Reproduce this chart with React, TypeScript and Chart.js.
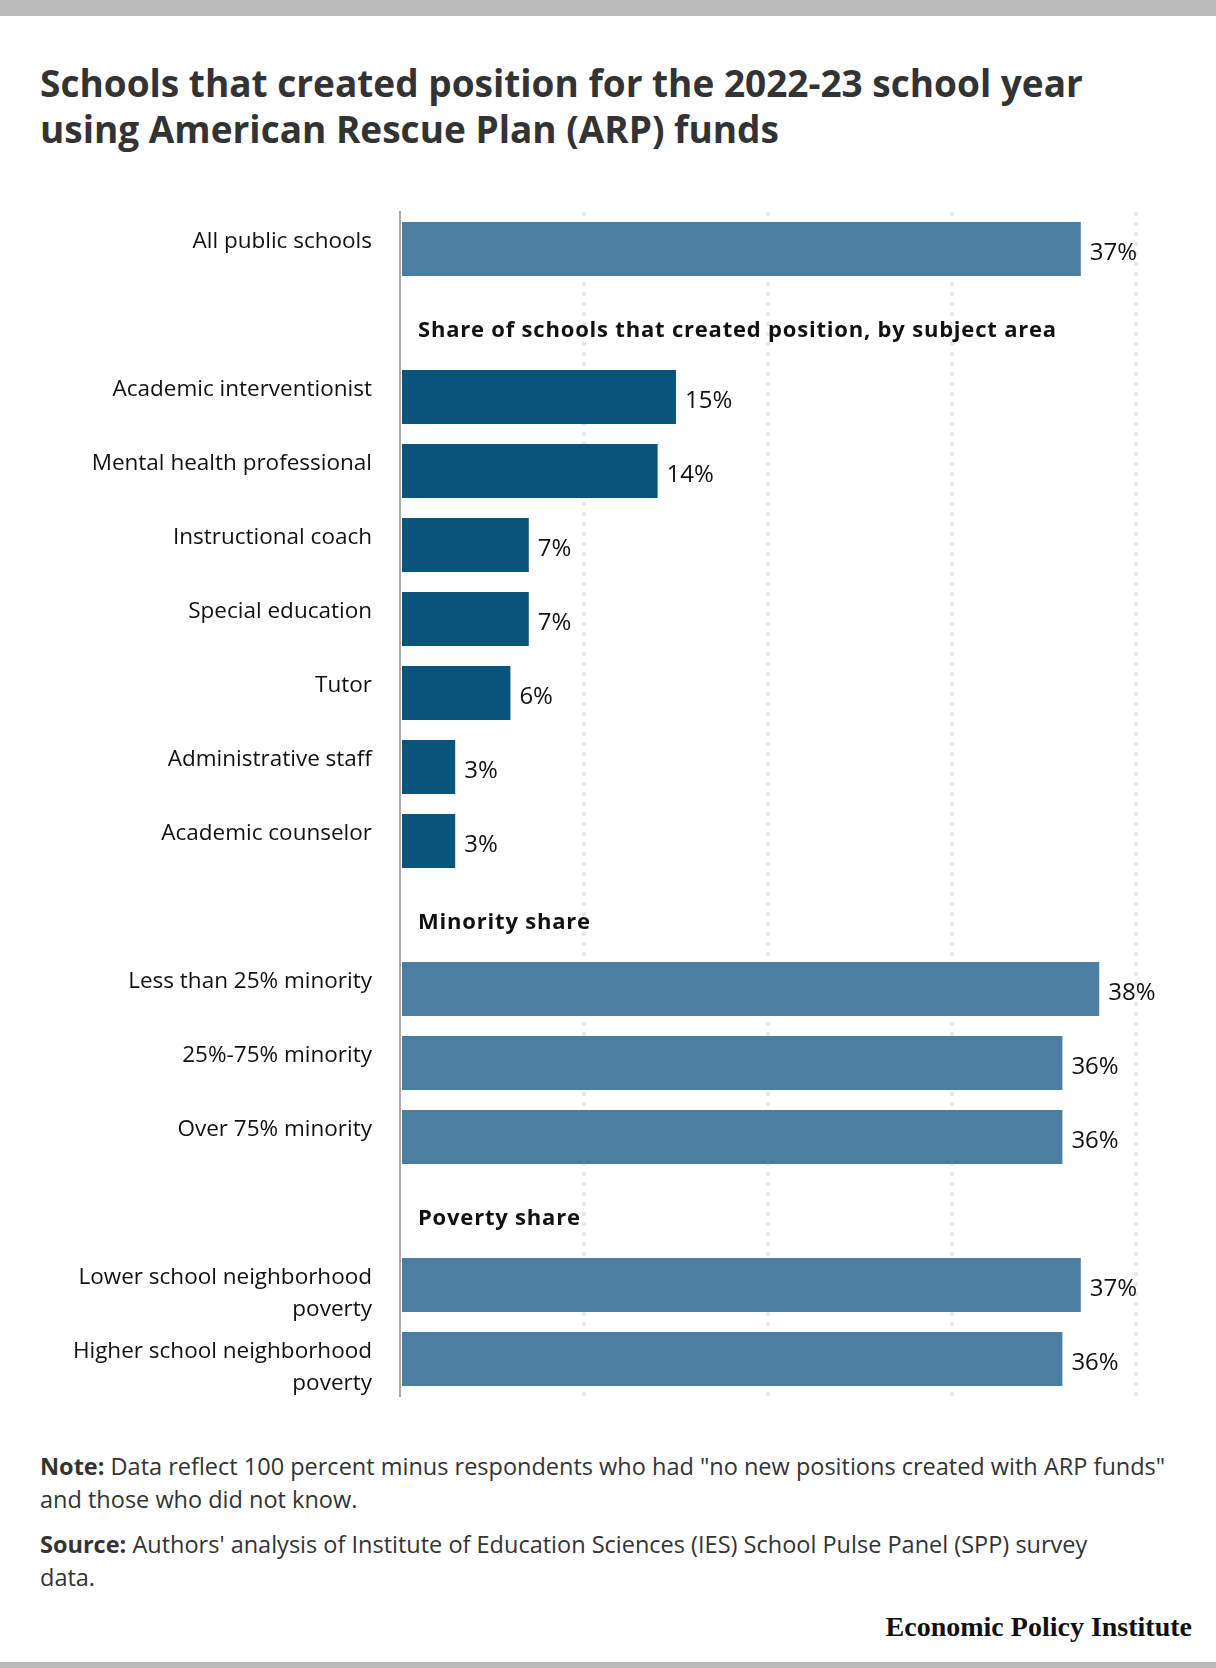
import { Chart, registerables } from "chart.js";
import { useEffect, useRef } from "react";

Chart.register(...registerables);

// Empty strings are the slots that hold the group headings.
const categories: (string | string[])[] = [
  "All public schools",
  "",
  "Academic interventionist",
  "Mental health professional",
  "Instructional coach",
  "Special education",
  "Tutor",
  "Administrative staff",
  "Academic counselor",
  "",
  "Less than 25% minority",
  "25%-75% minority",
  "Over 75% minority",
  "",
  ["", "Lower school neighborhood", "poverty"],
  ["", "Higher school neighborhood", "poverty"],
];

const values: (number | null)[] = [37, null, 15, 14, 7, 7, 6, 3, 3, null, 38, 36, 36, null, 37, 36];

const groups: string[] = ["all", "", "subject", "subject", "subject", "subject", "subject", "subject", "subject", "", "minority", "minority", "minority", "", "poverty", "poverty"];

const headings: { index: number; text: string }[] = [
  { index: 1, text: "Share of schools that created position, by subject area" },
  { index: 9, text: "Minority share" },
  { index: 13, text: "Poverty share" },
];

const xTicks = [0, 10, 20, 30, 40];

const LIGHT = "#4a7fa2";
const DARK = "#08547a";
const FONT = "'Open Sans', Lato, sans-serif";

export default function App() {
  const canvasRef = useRef<HTMLCanvasElement>(null);

  useEffect(() => {
    if (!canvasRef.current) return;
    const ctx = canvasRef.current.getContext("2d");
    if (!ctx) return;

    const labelsPlugin = {
      id: "valueLabels",
      afterDatasetsDraw(chart: Chart) {
        const c = chart.ctx;
        const meta = chart.getDatasetMeta(0);
        c.save();
        c.font = `24px ${FONT}`;
        c.fillStyle = "#111";
        c.textAlign = "left";
        c.textBaseline = "middle";
        meta.data.forEach((bar: any, i: number) => {
          const v = values[i];
          if (v == null) return;
          c.fillText(`${v}%`, bar.x + 9, bar.y + 4);
        });
        c.restore();
      },
    };

    const headingPlugin = {
      id: "headings",
      afterDraw(chart: Chart) {
        const c: any = chart.ctx;
        const y = chart.scales.y;
        c.save();
        c.font = `bold 22px ${FONT}`;
        c.letterSpacing = "0.8px";
        c.fillStyle = "#111";
        c.textAlign = "left";
        c.textBaseline = "middle";
        headings.forEach((h) => {
          c.fillText(h.text, chart.chartArea.left + 18, y.getPixelForValue(h.index) + 8);
        });
        c.restore();
      },
    };

    const chart = new Chart(ctx, {
      type: "bar",
      data: {
        labels: categories,
        datasets: [
          {
            data: values,
            backgroundColor: groups.map((g) => (g === "subject" ? DARK : LIGHT)),
            barPercentage: 0.73,
            categoryPercentage: 1,
          },
        ],
      },
      options: {
        indexAxis: "y",
        animation: false,
        responsive: false,
        maintainAspectRatio: false,
        layout: { padding: { top: 32, bottom: 24, left: 0, right: 80 } },
        plugins: { legend: { display: false }, tooltip: { enabled: false } },
        scales: {
          x: {
            min: 0,
            max: 40,
            afterBuildTicks: (s: any) => {
              s.ticks = xTicks.map((v) => ({ value: v }));
            },
            afterFit: (s: any) => {
              s.height = 0;
              s.paddingLeft = 0;
              s.paddingRight = 0;
            },
            ticks: { display: false },
            grid: {
              drawTicks: false,
              lineWidth: 4,
              color: (c: any) => (c.tick && c.tick.value === 0 ? "rgba(0,0,0,0)" : "#e8e8e8"),
            },
            border: { display: false, dash: [4, 6] },
          },
          y: {
            afterFit: (s: any) => {
              s.width = 400;
              s.paddingTop = 0;
              s.paddingBottom = 0;
            },
            grid: { display: false, drawTicks: false },
            border: { display: true, color: "#aaaaaa", width: 2 },
            ticks: {
              autoSkip: false,
              padding: 28,
              labelOffset: -7,
              color: "#111",
              font: { family: FONT, size: 22.5, lineHeight: 1.42 },
            },
          },
        },
      },
      plugins: [labelsPlugin, headingPlugin],
    });

    return () => chart.destroy();
  }, []);

  return (
    <div
      style={{
        position: "absolute",
        top: 0,
        left: 0,
        width: 1216,
        height: 1668,
        background: "#fff",
        fontFamily: FONT,
        overflow: "hidden",
      }}
    >
      <div style={{ position: "absolute", top: 0, left: 0, width: 1216, height: 16, background: "#bbbbbb" }} />
      <div
        style={{
          position: "absolute",
          top: 60,
          left: 40,
          fontSize: 37,
          lineHeight: "46px",
          fontWeight: 700,
          color: "#333",
        }}
      >
        Schools that created position for the 2022-23 school year
        <br />
        using American Rescue Plan (ARP) funds
      </div>
      <canvas
        ref={canvasRef}
        width={1216}
        height={1240}
        style={{ position: "absolute", top: 180, left: 0, width: 1216, height: 1240 }}
      />
      <div
        style={{
          position: "absolute",
          top: 1450,
          left: 40,
          fontSize: 23.5,
          lineHeight: "33px",
          color: "#333",
          whiteSpace: "nowrap",
        }}
      >
        <div>
          <b>Note:</b> Data reflect 100 percent minus respondents who had "no new positions created with ARP funds"
          <br />
          and those who did not know.
        </div>
        <div style={{ marginTop: 12 }}>
          <b>Source:</b> Authors' analysis of Institute of Education Sciences (IES) School Pulse Panel (SPP) survey
          <br />
          data.
        </div>
      </div>
      <div
        style={{
          position: "absolute",
          top: 1612,
          right: 24,
          fontFamily: "'Liberation Serif', 'DejaVu Serif', serif",
          fontWeight: 700,
          fontSize: 28,
          lineHeight: "30px",
          color: "#111",
        }}
      >
        Economic Policy Institute
      </div>
      <div style={{ position: "absolute", top: 1662, left: 0, width: 1216, height: 6, background: "#bbbbbb" }} />
    </div>
  );
}
